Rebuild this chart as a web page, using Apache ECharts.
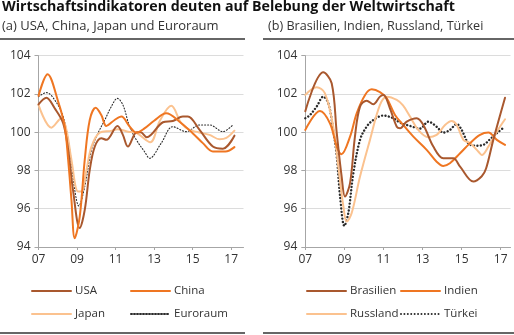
<!DOCTYPE html>
<html>
<head>
<meta charset="utf-8">
<script src="https://cdn.jsdelivr.net/npm/echarts@6/dist/echarts.min.js"></script>
<style>
  html, body { margin: 0; padding: 0; background: #fff; }
  #chart { width: 514px; height: 335px; }
</style>
</head>
<body>
<div id="chart"></div>
<script>
// Index values (long-term trend = 100), [year, value]
const yearTicks = [2007, 2009, 2011, 2013, 2015, 2017];
const valueTicks = [94, 96, 98, 100, 102, 104];

const usa = [
  [2007.0, 101.45], [2007.41, 101.8], [2007.84, 101.25], [2008.28, 100.47], [2008.54, 99.08],
  [2008.79, 96.99], [2009.14, 94.99], [2009.4, 95.94], [2009.66, 98.03], [2009.92, 99.25],
  [2010.26, 99.69], [2010.52, 99.6], [2011.1, 100.33], [2011.38, 99.86], [2011.64, 99.25],
  [2012.1, 100.0], [2012.3, 100.0], [2012.62, 99.74], [2013.46, 100.52], [2013.97, 100.59],
  [2014.49, 100.82], [2014.75, 100.82], [2015.36, 100.12], [2016.05, 99.25], [2016.57, 99.14],
  [2017.17, 99.82]
];
const china = [
  [2007.0, 101.9], [2007.47, 103.03], [2008.02, 101.6], [2008.36, 100.3], [2008.54, 98.55],
  [2008.71, 96.46], [2008.88, 94.46], [2009.14, 95.59], [2009.4, 98.55], [2009.66, 100.64],
  [2009.97, 101.28], [2010.26, 100.9], [2010.52, 100.33], [2010.95, 100.64], [2011.3, 100.82],
  [2011.73, 100.3], [2012.08, 99.98], [2012.5, 100.2], [2013.0, 100.6], [2013.63, 100.99],
  [2014.32, 100.55], [2015.0, 99.95], [2015.53, 99.43], [2016.05, 98.99], [2016.7, 98.99],
  [2017.17, 99.22]
];
const japan = [
  [2007.0, 101.43], [2007.67, 100.24], [2008.19, 100.73], [2008.45, 100.12], [2008.71, 98.55],
  [2009.05, 96.9], [2009.22, 96.9], [2009.49, 98.03], [2009.75, 99.25], [2010.18, 99.98],
  [2010.78, 100.07], [2011.1, 100.16], [2011.64, 100.03], [2012.1, 99.95], [2012.8, 99.48],
  [2013.3, 100.6], [2013.89, 101.38], [2014.41, 100.47], [2014.84, 100.12], [2015.3, 100.0],
  [2015.88, 99.86], [2016.4, 99.63], [2016.75, 99.7], [2017.17, 100.08]
];
const euroraum = [
  [2007.0, 101.86], [2007.41, 102.07], [2007.84, 101.69], [2008.28, 100.82], [2008.62, 99.08],
  [2008.88, 96.99], [2009.09, 96.15], [2009.4, 97.16], [2009.75, 99.08], [2010.09, 99.95],
  [2010.44, 100.64], [2010.78, 101.34], [2011.09, 101.77], [2011.38, 101.43], [2011.73, 100.29],
  [2012.08, 99.6], [2012.5, 98.99], [2012.77, 98.64], [2013.37, 99.43], [2013.97, 100.29],
  [2014.67, 100.03], [2015.36, 100.38], [2015.88, 100.38], [2016.57, 100.03], [2017.08, 100.38]
];

const brasilien = [
  [2007.0, 101.1], [2007.92, 103.13], [2008.35, 102.56], [2008.61, 99.95], [2008.86, 97.68],
  [2009.03, 96.64], [2009.29, 97.34], [2009.54, 99.77], [2009.8, 101.34], [2010.14, 101.65],
  [2010.48, 101.46], [2010.82, 101.86], [2011.0, 101.95], [2011.33, 101.25], [2011.68, 100.29],
  [2011.85, 100.21], [2012.19, 100.55], [2012.7, 100.73], [2013.04, 100.38], [2013.55, 99.25],
  [2014.06, 98.64], [2014.57, 98.64], [2014.92, 98.2], [2015.6, 97.42], [2016.03, 97.7],
  [2016.25, 98.1], [2016.62, 99.6], [2017.22, 101.8]
];
const indien = [
  [2007.0, 100.12], [2007.75, 101.11], [2008.26, 100.47], [2008.61, 99.25], [2008.85, 98.85],
  [2009.29, 99.77], [2009.63, 100.99], [2010.06, 101.95], [2010.4, 102.24], [2010.82, 102.1],
  [2011.17, 101.77], [2011.59, 100.9], [2012.01, 100.38], [2012.53, 99.77], [2013.21, 99.08],
  [2013.72, 98.46], [2014.06, 98.24], [2014.4, 98.38], [2014.92, 98.9], [2015.43, 99.43],
  [2015.94, 99.86], [2016.37, 99.98], [2016.8, 99.6], [2017.22, 99.34]
];
const russland = [
  [2007.0, 101.95], [2007.58, 102.35], [2008.0, 102.04], [2008.43, 100.29], [2008.69, 98.2],
  [2008.95, 96.11], [2009.12, 95.33], [2009.37, 95.76], [2009.8, 97.68], [2010.31, 99.6],
  [2010.82, 101.43], [2011.17, 101.86], [2011.68, 101.69], [2012.0, 101.4], [2012.36, 100.82],
  [2012.78, 100.12], [2013.29, 99.74], [2013.72, 99.86], [2014.15, 100.38], [2014.49, 100.59],
  [2014.75, 100.38], [2015.09, 99.6], [2015.43, 99.43], [2015.85, 98.99], [2016.03, 98.81],
  [2016.37, 99.25], [2016.8, 100.03], [2017.22, 100.68]
];
const tuerkei = [
  [2007.0, 100.73], [2007.24, 100.9], [2007.58, 101.34], [2007.92, 101.86], [2008.18, 101.5],
  [2008.43, 100.12], [2008.61, 98.73], [2008.78, 96.64], [2009.0, 95.1], [2009.2, 95.77],
  [2009.46, 97.86], [2009.8, 99.6], [2010.14, 100.29], [2010.48, 100.64], [2010.99, 100.87],
  [2011.5, 100.73], [2011.85, 100.5], [2012.36, 100.33], [2012.87, 100.19], [2013.29, 100.55],
  [2013.72, 100.29], [2014.06, 99.98], [2014.4, 100.12], [2014.75, 100.43], [2015.0, 100.12],
  [2015.34, 99.43], [2015.68, 99.29], [2016.11, 99.34], [2016.45, 99.63], [2016.8, 99.95],
  [2017.17, 100.26]
];

const FONT = '"Open Sans", "Noto Sans", sans-serif';
const TEXT = '#333333';
const BROWN = '#a9582e';
const ORANGE = '#ef7622';
const PEACH = '#fbc28f';
const DOT = '#2b2b2b';

function xAxis(gridIndex, max) {
  return {
    type: 'value', gridIndex, min: 2007, max, interval: 2,
    axisLine: { show: true, lineStyle: { color: '#a6a6a6', width: 1 } },
    axisTick: { show: true, length: 3, customValues: yearTicks, lineStyle: { color: '#a6a6a6' } },
    axisLabel: {
      customValues: yearTicks, margin: 7, color: TEXT, fontFamily: FONT, fontSize: 12,
      formatter: v => String(Math.round(v) % 100).padStart(2, '0')
    },
    splitLine: { show: false }
  };
}
function yAxis(gridIndex) {
  return {
    type: 'value', gridIndex, min: 94, max: 104, interval: 2,
    axisLine: { show: true, lineStyle: { color: '#a6a6a6', width: 1 } },
    axisTick: { show: true, length: 4, lineStyle: { color: '#a6a6a6' } },
    axisLabel: { margin: 8, color: TEXT, fontFamily: FONT, fontSize: 12 },
    splitLine: { show: true, lineStyle: { color: '#dcdcdc', width: 1 } }
  };
}
function line(name, data, idx, color, width, type) {
  return {
    name, type: 'line', data, xAxisIndex: idx, yAxisIndex: idx,
    smooth: 0.35, symbol: 'none', animation: false,
    lineStyle: { color, width, type: type || 'solid', cap: 'round' },
    itemStyle: { color }
  };
}
function legend(name, left, top) {
  return {
    data: [name], left, top, padding: 0, itemWidth: 39, itemHeight: 10, itemGap: 4,
    selectedMode: false,
    itemStyle: { opacity: 0 },
    textStyle: { color: TEXT, fontFamily: FONT, fontSize: 11.5, padding: [0, 0, 0, -1] }
  };
}

const chart = echarts.init(document.getElementById('chart'), null, { renderer: 'canvas' });
chart.setOption({
  backgroundColor: '#fff',
  animation: false,
  title: [
    { text: 'Wirtschaftsindikatoren deuten auf Belebung der Weltwirtschaft', left: 2, top: 0, padding: 0,
      textStyle: { fontFamily: FONT, fontWeight: 'bold', fontSize: 14.2, color: '#111' } },
    { text: '(a) USA, China, Japan und Euroraum', left: 2, top: 20, padding: 0,
      textStyle: { fontFamily: FONT, fontWeight: 'normal', fontSize: 13, color: TEXT } },
    { text: '(b) Brasilien, Indien, Russland, Türkei', left: 268, top: 20, padding: 0,
      textStyle: { fontFamily: FONT, fontWeight: 'normal', fontSize: 12.6, color: TEXT } }
  ],
  graphic: [
    { type: 'line', shape: { x1: 0, y1: 39, x2: 245, y2: 39 }, style: { stroke: '#333', lineWidth: 1.5 } },
    { type: 'line', shape: { x1: 263, y1: 39, x2: 514, y2: 39 }, style: { stroke: '#333', lineWidth: 1.5 } },
    { type: 'line', shape: { x1: 0, y1: 333, x2: 245, y2: 333 }, style: { stroke: '#333', lineWidth: 1.5 } },
    { type: 'line', shape: { x1: 263, y1: 333, x2: 514, y2: 333 }, style: { stroke: '#333', lineWidth: 1.5 } }
  ],
  grid: [
    { left: 38.5, top: 55.7, width: 205, height: 191.3 },
    { left: 305.3, top: 55.7, width: 205.2, height: 191.3 }
  ],
  xAxis: [xAxis(0, 2017.64), xAxis(1, 2017.5)],
  yAxis: [yAxis(0), yAxis(1)],
  legend: [
    legend('USA', 31, 285), legend('China', 130, 285),
    legend('Japan', 31, 308), legend('Euroraum', 130, 308),
    legend('Brasilien', 306, 285), legend('Indien', 400, 285),
    legend('Russland', 306, 308), legend('Türkei', 400, 308)
  ],
  series: [
    line('Euroraum', euroraum, 0, DOT, 1.1, [1, 2]),
    line('Japan', japan, 0, PEACH, 2),
    line('USA', usa, 0, BROWN, 2),
    line('China', china, 0, ORANGE, 2),
    line('Türkei', tuerkei, 1, DOT, 2.4, [0.01, 3.4]),
    line('Russland', russland, 1, PEACH, 2),
    line('Indien', indien, 1, ORANGE, 2),
    line('Brasilien', brasilien, 1, BROWN, 2)
  ]
});
</script>
</body>
</html>
